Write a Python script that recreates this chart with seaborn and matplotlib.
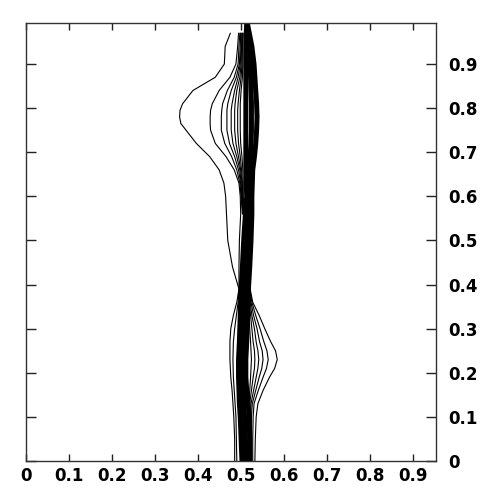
import numpy as np
import pandas as pd
import matplotlib
matplotlib.use("Agg")
import matplotlib.pyplot as plt
import seaborn as sns

# y sample levels for the traced contour lines
Y_BAND = [0.00, 0.05, 0.10, 0.13, 0.16, 0.19, 0.23, 0.27, 0.30, 0.33, 0.36, 0.39, 0.44, 0.50,
          0.56, 0.60, 0.63, 0.66, 0.69, 0.72, 0.75, 0.78, 0.81, 0.84, 0.87, 0.90, 0.94, 0.97, 0.99]
Y_LONG = [0.00, 0.05, 0.10, 0.13, 0.16, 0.19, 0.23, 0.27, 0.30, 0.33, 0.36, 0.39, 0.44, 0.50,
          0.56, 0.60, 0.63, 0.66, 0.69, 0.72, 0.75, 0.765, 0.78, 0.795, 0.81, 0.84, 0.87, 0.90, 0.94, 0.97]
Y_UPPER = [0.56, 0.60, 0.63, 0.66, 0.69, 0.72, 0.75, 0.765, 0.78, 0.795, 0.81, 0.84, 0.87, 0.90, 0.94, 0.97]
Y_LOWER = [0.00, 0.05, 0.10, 0.13, 0.16, 0.19, 0.21, 0.23, 0.25, 0.27, 0.30, 0.33, 0.36, 0.39, 0.44]

# dense core of the front (many contours packed together)
BAND_L = [0.502, 0.500, 0.498, 0.496, 0.495, 0.494, 0.494, 0.496, 0.497, 0.498, 0.499, 0.500, 0.503, 0.506,
          0.510, 0.513, 0.512, 0.511, 0.511, 0.511, 0.511, 0.511, 0.511, 0.511, 0.511, 0.511, 0.511, 0.512, 0.513]
BAND_M = [0.511, 0.510, 0.508, 0.506, 0.504, 0.503, 0.503, 0.505, 0.506, 0.507, 0.508, 0.509, 0.512, 0.515,
          0.518, 0.519, 0.519, 0.519, 0.521, 0.523, 0.524, 0.524, 0.524, 0.523, 0.522, 0.521, 0.518, 0.516, 0.514]
BAND_R = [0.520, 0.520, 0.519, 0.516, 0.513, 0.511, 0.511, 0.513, 0.514, 0.515, 0.516, 0.517, 0.520, 0.523,
          0.525, 0.525, 0.526, 0.527, 0.531, 0.534, 0.536, 0.537, 0.536, 0.534, 0.532, 0.530, 0.525, 0.519, 0.515]

# left-side contours (bulge near y = 0.78)
L1 = [0.485, 0.485, 0.483, 0.481, 0.479, 0.476, 0.474, 0.474, 0.476, 0.482, 0.490, 0.495, 0.480, 0.469,
      0.466, 0.464, 0.460, 0.449, 0.427, 0.396, 0.372, 0.360, 0.357, 0.358, 0.364, 0.388, 0.440, 0.461, 0.463, 0.475]
L2 = [0.490, 0.489, 0.488, 0.486, 0.484, 0.482, 0.481, 0.482, 0.485, 0.489, 0.493, 0.495, 0.495, 0.496,
      0.499, 0.498, 0.495, 0.484, 0.465, 0.440, 0.429, 0.428, 0.428, 0.429, 0.433, 0.449, 0.474, 0.488, 0.492, 0.494]
L3 = [0.503, 0.500, 0.497, 0.490, 0.478, 0.462, 0.454, 0.454, 0.454, 0.455, 0.457, 0.468, 0.484, 0.493, 0.495, 0.497]
L4 = [0.504, 0.501, 0.499, 0.494, 0.485, 0.473, 0.467, 0.467, 0.467, 0.467, 0.469, 0.477, 0.489, 0.496, 0.498, 0.499]
L5 = [0.505, 0.502, 0.500, 0.497, 0.490, 0.481, 0.477, 0.477, 0.477, 0.477, 0.479, 0.485, 0.493, 0.498, 0.500, 0.500]
L6 = [0.505, 0.503, 0.502, 0.499, 0.494, 0.488, 0.485, 0.485, 0.485, 0.485, 0.486, 0.490, 0.497, 0.500, 0.501, 0.502]
L7 = [0.506, 0.504, 0.503, 0.501, 0.498, 0.494, 0.492, 0.492, 0.492, 0.492, 0.493, 0.496, 0.500, 0.502, 0.503, 0.503]
L8 = [0.507, 0.505, 0.505, 0.504, 0.502, 0.499, 0.498, 0.498, 0.498, 0.498, 0.498, 0.500, 0.503, 0.504, 0.504, 0.505]

# right-side contours (bulge near y = 0.23)
R1 = [0.532, 0.533, 0.535, 0.539, 0.551, 0.566, 0.578, 0.584, 0.580, 0.569, 0.555, 0.542, 0.527, 0.521, 0.520]
R2 = [0.527, 0.527, 0.528, 0.530, 0.540, 0.551, 0.559, 0.563, 0.560, 0.553, 0.544, 0.534, 0.525, 0.520, 0.519]
R3 = [0.523, 0.523, 0.524, 0.526, 0.534, 0.542, 0.548, 0.551, 0.549, 0.543, 0.537, 0.529, 0.523, 0.519, 0.518]
R4 = [0.520, 0.521, 0.522, 0.523, 0.529, 0.535, 0.539, 0.541, 0.539, 0.535, 0.531, 0.525, 0.521, 0.518, 0.517]
R5 = [0.518, 0.519, 0.519, 0.520, 0.524, 0.528, 0.531, 0.532, 0.531, 0.528, 0.525, 0.522, 0.519, 0.517, 0.516]
R6 = [0.516, 0.517, 0.517, 0.518, 0.520, 0.522, 0.523, 0.524, 0.523, 0.522, 0.520, 0.519, 0.517, 0.516, 0.515]

TICKS = [0, 0.1, 0.2, 0.3, 0.4, 0.5, 0.6, 0.7, 0.8, 0.9]
TICK_LABELS = ["0", "0.1", "0.2", "0.3", "0.4", "0.5", "0.6", "0.7", "0.8", "0.9"]


def frame(name, xs, ys):
    return pd.DataFrame({"x": xs, "y": ys, "line": name})


thin = pd.concat([
    frame("L1", L1, Y_LONG), frame("L2", L2, Y_LONG),
    frame("L3", L3, Y_UPPER), frame("L4", L4, Y_UPPER), frame("L5", L5, Y_UPPER),
    frame("L6", L6, Y_UPPER), frame("L7", L7, Y_UPPER), frame("L8", L8, Y_UPPER),
    frame("R1", R1, Y_LOWER), frame("R2", R2, Y_LOWER), frame("R3", R3, Y_LOWER),
    frame("R4", R4, Y_LOWER), frame("R5", R5, Y_LOWER), frame("R6", R6, Y_LOWER),
], ignore_index=True)
band = pd.concat([
    frame("BL", BAND_L, Y_BAND), frame("BM", BAND_M, Y_BAND), frame("BR", BAND_R, Y_BAND),
], ignore_index=True)

sns.set_theme(style="white")
plt.rcParams["font.family"] = ["DejaVu Sans"]

fig = plt.figure(figsize=(5, 5), dpi=100)
ax = fig.add_axes([0.052, 0.078, 0.820, 0.876])

sns.lineplot(data=band, x="x", y="y", units="line", estimator=None, sort=False,
             color="black", linewidth=3.6, ax=ax, legend=False)
sns.lineplot(data=thin, x="x", y="y", units="line", estimator=None, sort=False,
             color="black", linewidth=0.8, ax=ax, legend=False)

ax.set_xlim(0, 0.953)
ax.set_ylim(0, 0.993)
ax.set_xlabel("")
ax.set_ylabel("")

ax.set_xticks(TICKS)
ax.set_xticklabels(TICK_LABELS)
ax.set_yticks(TICKS)
ax.set_yticklabels(TICK_LABELS)

ax.yaxis.tick_right()
ax.tick_params(axis="x", which="both", direction="in", length=5, width=1, color="#222222",
               top=True, bottom=True, labelbottom=True, labeltop=False, pad=4,
               labelsize=12, labelcolor="black")
ax.tick_params(axis="y", which="both", direction="in", length=7, width=1, color="#222222",
               left=True, right=True, labelright=True, labelleft=False, pad=9,
               labelsize=12, labelcolor="black")
for lab in ax.get_xticklabels() + ax.get_yticklabels():
    lab.set_fontweight("bold")

for sp in ax.spines.values():
    sp.set_visible(True)
    sp.set_color("#333333")
    sp.set_linewidth(1.0)

ax.set_facecolor("white")
fig.patch.set_facecolor("white")
fig.savefig("out.png", dpi=100, facecolor="white")
